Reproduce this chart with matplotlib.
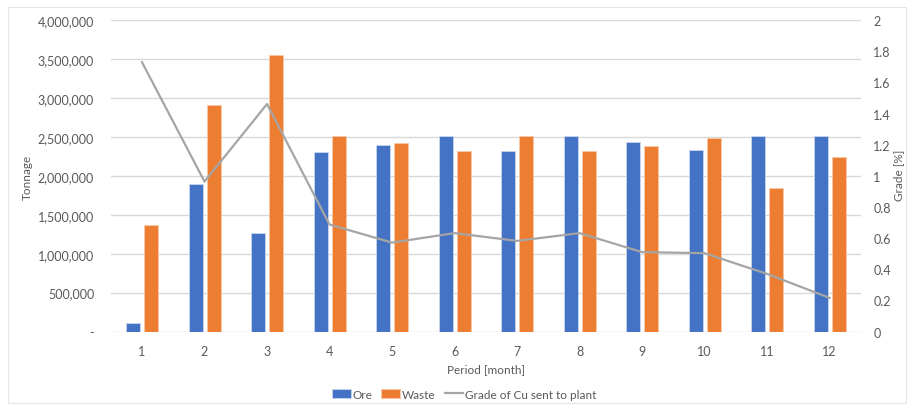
import numpy as np
import matplotlib.pyplot as plt
from matplotlib.patches import Rectangle
from matplotlib.ticker import FuncFormatter

plt.rcParams['font.family'] = ['Lato', 'DejaVu Sans']

periods = [1, 2, 3, 4, 5, 6, 7, 8, 9, 10, 11, 12]
ore = [112000, 1890000, 1270000, 2302000, 2401000, 2513000,
       2315000, 2510000, 2440000, 2337000, 2510000, 2510000]
waste = [1372000, 2907000, 3555000, 2517000, 2418000, 2315000,
         2513000, 2315000, 2385000, 2491000, 1844000, 2243000]
grade = [1.729, 0.963, 1.461, 0.687, 0.571, 0.632,
         0.582, 0.632, 0.51, 0.503, 0.37, 0.216]

blue = '#4472c4'
orange = '#ed7d31'
gray_line = '#a5a5a5'
txt = '#595959'

fig = plt.figure(figsize=(9.08, 4.06), dpi=100)
ax = fig.add_axes([0.122, 0.181, 0.826, 0.767])

x = np.array(periods)
w = 0.224
off = 0.144
ax.bar(x - off, ore, w, color=blue, edgecolor='#c9d6ee', linewidth=0.6, label='Ore', zorder=2)
ax.bar(x + off, waste, w, color=orange, edgecolor='#f8c9a8', linewidth=0.6, label='Waste', zorder=2)

ax.set_ylim(0, 4000000)
ax.set_yticks(np.arange(0, 4000001, 500000))
ax.yaxis.set_major_formatter(FuncFormatter(lambda v, p: '-' if v == 0 else f'{int(v):,}'))
ax.set_xlim(0.5, 12.5)
ax.set_xticks(periods)
ax.grid(axis='y', color='#d9d9d9', linewidth=1, zorder=0)
ax.set_axisbelow(True)
for s in ax.spines.values():
    s.set_visible(False)
ax.tick_params(length=0, colors=txt, labelsize=9)
ax.tick_params(axis='x', pad=10)
ax.tick_params(axis='y', pad=12)
ax.set_xlabel('Period [month]', color=txt, fontsize=8.5, labelpad=4)

ax2 = ax.twinx()
ax2.plot(x, grade, color=gray_line, linewidth=1.6, label='Grade of Cu sent to plant', zorder=3)
ax2.set_ylim(0, 2)
ax2.set_yticks(np.arange(0, 2.01, 0.2))
ax2.yaxis.set_major_formatter(FuncFormatter(lambda v, p: f'{v:.1f}'.rstrip('0').rstrip('.') if v else '0'))
for s in ax2.spines.values():
    s.set_visible(False)
ax2.tick_params(length=0, colors=txt, labelsize=9, pad=9)

# axis titles placed in figure pixels
fig.text(27 / 908, 1 - 177 / 406, 'Tonnage', rotation=90, ha='center', va='center',
         color=txt, fontsize=8.5)
fig.text(899 / 908, 1 - 175 / 406, 'Grade [%]', rotation=90, ha='center', va='center',
         color=txt, fontsize=8.5)

h1, l1 = ax.get_legend_handles_labels()
h2, l2 = ax2.get_legend_handles_labels()
fig.legend(h1 + h2, l1 + l2, loc='center', bbox_to_anchor=(0.511, 0.027), ncol=3,
           frameon=False, fontsize=8.5, labelcolor=txt, handlelength=1.6,
           handleheight=0.7, handletextpad=0.1, columnspacing=0.8)

# thin chart-area border
fig.patches.append(Rectangle((8 / 908, 2 / 406), 898 / 908, 396 / 406, transform=fig.transFigure,
                             fill=False, edgecolor='#e6e6e6', linewidth=0.8))

fig.savefig('out.png', dpi=100)
